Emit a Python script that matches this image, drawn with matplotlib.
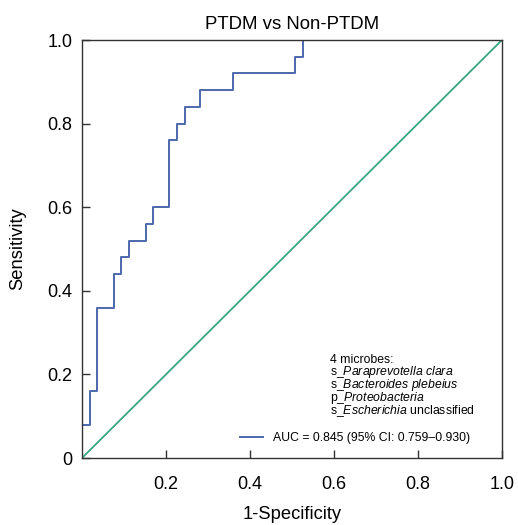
import matplotlib
matplotlib.use('Agg')
import matplotlib.pyplot as plt

# ROC curve corner points
fpr = [0, 0, 0.02, 0.036, 0.076, 0.094, 0.113, 0.152, 0.168, 0.206, 0.226, 0.245, 0.281, 0.359, 0.508, 0.527, 1.0]
tpr = [0, 0.08, 0.16, 0.36, 0.44, 0.48, 0.52, 0.56, 0.60, 0.76, 0.80, 0.84, 0.88, 0.92, 0.96, 1.0, 1.0]
chance = [0, 1]

xticks = [0.2, 0.4, 0.6, 0.8, 1.0]
xtick_labels = ['0.2', '0.4', '0.6', '0.8', '1.0']
yticks = [0, 0.2, 0.4, 0.6, 0.8, 1.0]
ytick_labels = ['0', '0.2', '0.4', '0.6', '0.8', '1.0']

auc_label = 'AUC = 0.845 (95% CI: 0.759\u20130.930)'
microbe_lines = ['4 microbes:',
                 's_$\\mathit{Paraprevotella\\ clara}$',
                 's_$\\mathit{Bacteroides\\ plebeius}$',
                 'p_$\\mathit{Proteobacteria}$',
                 's_$\\mathit{Escherichia}$ unclassified']

plt.rcParams['font.family'] = ['Liberation Sans', 'DejaVu Sans']
plt.rcParams['mathtext.fontset'] = 'custom'
plt.rcParams['mathtext.rm'] = 'Liberation Sans'
plt.rcParams['mathtext.it'] = 'Liberation Sans:italic'

fig = plt.figure(figsize=(5.18, 5.25), dpi=100)
ax = fig.add_axes([0.1583, 0.1276, 0.8107, 0.7962])

ax.plot(fpr, tpr, drawstyle='steps-post', color='#4d68ad', lw=1.4, label=auc_label)
ax.plot(chance, chance, color='#3aa57f', lw=1.3)

ax.set_xlim(0, 1)
ax.set_ylim(0, 1)
ax.set_xticks(xticks)
ax.set_xticklabels(xtick_labels)
ax.set_yticks(yticks)
ax.set_yticklabels(ytick_labels)
ax.tick_params(axis='x', direction='in', length=6, width=1, pad=13, labelsize=13, color='#333333')
ax.tick_params(axis='y', direction='in', length=6, width=1, pad=7, labelsize=13, color='#333333')
for s in ax.spines.values():
    s.set_color('#333333')
    s.set_linewidth(1.0)

ax.set_title('PTDM vs Non-PTDM', fontsize=13.4, pad=8)
ax.set_xlabel('1-Specificity', fontsize=13.2, labelpad=9)
ax.set_ylabel('Sensitivity', fontsize=13.2, labelpad=15)

# annotation block, one line at a time so the spacing stays even
for i, line in enumerate(microbe_lines):
    ax.text(0.59, 0.228 - i * 0.0305, line, fontsize=8.8, va='baseline', ha='left',
            transform=ax.transAxes)
ax.legend(loc='center left', bbox_to_anchor=(0.376, 0.048), frameon=False, fontsize=8.8,
          borderpad=0, borderaxespad=0, handlelength=1.9, handletextpad=0.8)

fig.savefig('out.png', dpi=100)
